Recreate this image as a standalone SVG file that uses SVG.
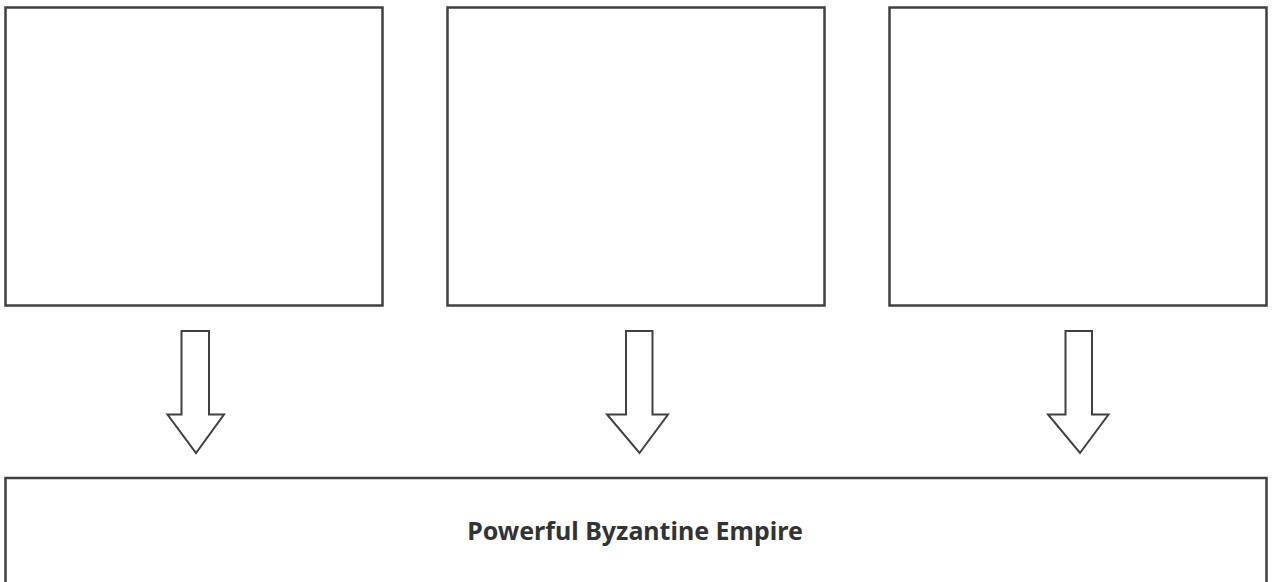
<svg xmlns="http://www.w3.org/2000/svg" width="1272" height="582" viewBox="0 0 1272 582">
<style>
.box{fill:#fff;stroke:#404040;stroke-width:2.5}
.arr{fill:#fff;stroke:#404040;stroke-width:2;stroke-linejoin:miter}
.lbl{font-family:"Noto Sans","Open Sans",sans-serif;font-weight:bold;font-size:25px;fill:#333;text-anchor:middle}
</style>
<rect width="1272" height="582" fill="#fff"/>
<g id="node-box1"><rect class="box" x="5.5" y="7.5" width="377" height="298"/></g>
<g id="node-box2"><rect class="box" x="447.5" y="7.5" width="377" height="298"/></g>
<g id="node-box3"><rect class="box" x="889.5" y="7.5" width="377" height="298"/></g>
<g id="node-empire"><rect class="box" x="5.5" y="478" width="1261" height="110"/>
<text class="lbl" x="635" y="540">Powerful Byzantine Empire</text></g>
<g id="connectors">
<path class="arr" d="M181.5,331 H209 V414.5 H224 L196,453 L167.5,414.5 H181.5 Z"/>
<path class="arr" d="M626,331 H652.5 V414.5 H668 L639.5,453 L607,414.5 H626 Z"/>
<path class="arr" d="M1065.5,331 H1092 V414.5 H1108.5 L1080,453 L1048,414.5 H1065.5 Z"/>
</g>
</svg>
